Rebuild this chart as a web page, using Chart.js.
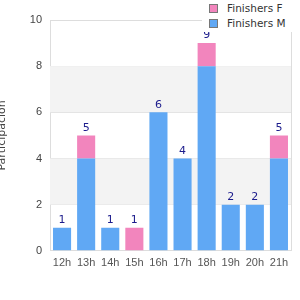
<!DOCTYPE html>
<html>
<head>
<meta charset="utf-8">
<script src="https://cdn.jsdelivr.net/npm/chart.js@4/dist/chart.umd.min.js"></script>
<style>
  html, body { margin: 0; padding: 0; background: #fff; }
  #wrap { position: relative; width: 300px; height: 300px; }
  #leyenda {
    position: absolute; top: 0; left: 202px; width: 98px; height: 32px;
    background: #fff; font: 10.5px "DejaVu Sans", sans-serif; color: #333;
  }
  #leyenda div { position: absolute; left: 7px; white-space: nowrap; }
  #leyenda span {
    display: inline-block; width: 7px; height: 7px; margin-right: 9px;
    border: 1px solid #777; vertical-align: -1px;
  }
</style>
</head>
<body>
<div id="wrap">
  <canvas id="grafico" width="300" height="300"></canvas>
  <div id="leyenda">
    <div style="top:2px"><span style="background:#f285bd"></span>Finishers F</div>
    <div style="top:17px"><span style="background:#60a8f4"></span>Finishers M</div>
  </div>
</div>
<script>
// horas de llegada y cantidad de finishers por sexo
const horas = ["12h", "13h", "14h", "15h", "16h", "17h", "18h", "19h", "20h", "21h"];
const finishersM = [1, 4, 1, 0, 6, 4, 8, 2, 2, 4];
const finishersF = [0, 1, 0, 1, 0, 0, 1, 0, 0, 1];
const marcasY = [0, 2, 4, 6, 8, 10];

const fuente = { family: "Liberation Sans", size: 11 };

// bandas grises alternadas y borde del área
const bandas = {
  id: "bandas",
  beforeDatasetsDraw(chart) {
    const { ctx, chartArea: a, scales: { y } } = chart;
    ctx.save();
    ctx.fillStyle = "#f3f3f3";
    for (let i = 1; i < marcasY.length - 1; i += 2) {
      const y1 = y.getPixelForValue(marcasY[i]);
      const y2 = y.getPixelForValue(marcasY[i + 1]);
      ctx.fillRect(a.left, y2, a.right - a.left, y1 - y2);
    }
    ctx.strokeStyle = "#ddd";
    ctx.lineWidth = 1;
    ctx.beginPath();
    ctx.moveTo(Math.round(a.right) + 0.5, a.top);
    ctx.lineTo(Math.round(a.right) + 0.5, a.bottom);
    ctx.stroke();
    ctx.restore();
  },
};

// total encima de cada barra
const totales = {
  id: "totales",
  afterDatasetsDraw(chart) {
    const { ctx, scales: { x, y } } = chart;
    ctx.save();
    ctx.font = "11px 'DejaVu Sans'";
    ctx.fillStyle = "#1c1c8c";
    ctx.textAlign = "center";
    ctx.textBaseline = "bottom";
    horas.forEach((h, i) => {
      const total = finishersM[i] + finishersF[i];
      ctx.fillText(String(total), x.getPixelForValue(i), y.getPixelForValue(total) - 2);
    });
    ctx.restore();
  },
};

new Chart(document.getElementById("grafico"), {
  type: "bar",
  data: {
    labels: horas,
    datasets: [
      { label: "Finishers M", data: finishersM, backgroundColor: "#60a8f4" },
      { label: "Finishers F", data: finishersF, backgroundColor: "#f285bd" },
    ],
  },
  options: {
    responsive: false,
    animation: false,
    layout: { padding: { top: 20, right: 9, bottom: 24, left: 0 } },
    datasets: { bar: { barPercentage: 0.75, categoryPercentage: 1 } },
    scales: {
      x: {
        stacked: true,
        grid: { display: false, drawTicks: false },
        border: { color: "#ddd" },
        ticks: { color: "#555", font: fuente, padding: 6, maxRotation: 0, minRotation: 0, autoSkip: false },
      },
      y: {
        stacked: true,
        min: 0,
        max: 10,
        afterFit: (s) => { s.width = 50; },
        ticks: { stepSize: 2, color: "#444", font: fuente, padding: 8 },
        grid: { color: "#ddd", drawTicks: false },
        border: { color: "#ddd" },
        title: {
          display: true,
          text: "Participación",
          color: "#444",
          font: { family: "DejaVu Sans", size: 11 },
          padding: { top: -4 },
        },
      },
    },
    plugins: { legend: { display: false }, tooltip: { enabled: false } },
  },
  plugins: [bandas, totales],
});
</script>
</body>
</html>
